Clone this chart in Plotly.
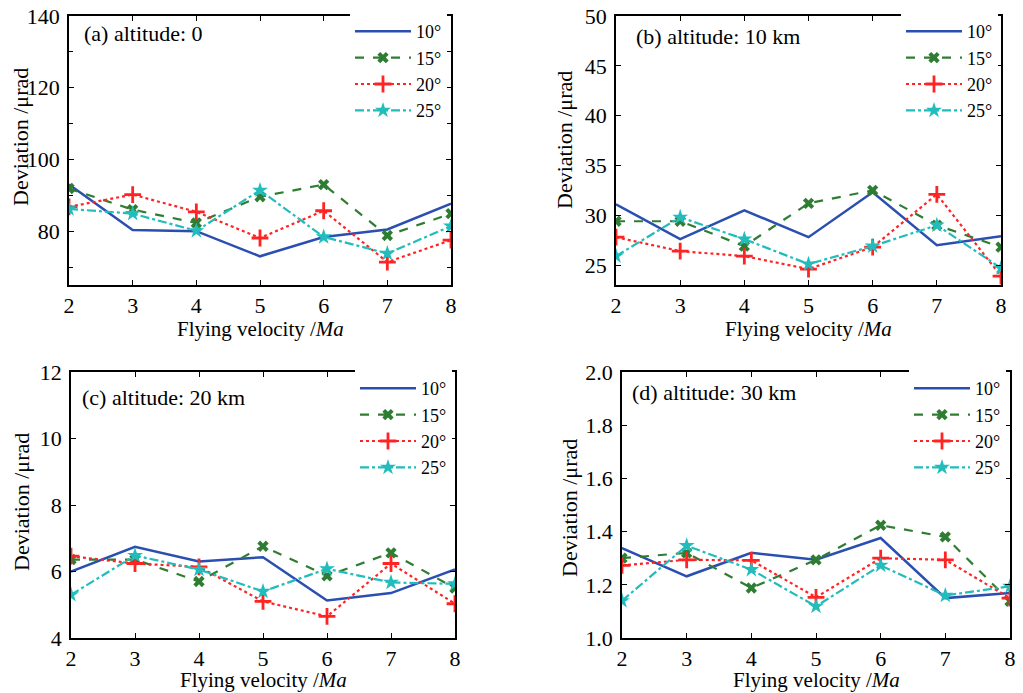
import plotly.graph_objects as go

velocity = [2, 3, 4, 5, 6, 7, 8]
angles = ["10°", "15°", "20°", "25°"]

a_10 = [93.0, 80.3, 80.0, 73.0, 78.4, 80.5, 87.7]
a_15 = [91.9, 86.0, 82.3, 89.6, 93.0, 78.8, 84.9]
a_20 = [86.8, 90.2, 85.4, 78.1, 85.7, 71.4, 77.5]
a_25 = [86.2, 84.9, 80.1, 91.4, 78.4, 73.8, 81.4]

b_10 = [31.1, 27.6, 30.5, 27.8, 32.3, 27.0, 27.9]
b_15 = [29.4, 29.4, 26.9, 31.2, 32.5, 29.0, 26.8]
b_20 = [27.8, 26.4, 25.9, 24.6, 26.8, 32.1, 23.9]
b_25 = [25.9, 29.8, 27.6, 25.1, 26.9, 29.0, 24.7]

c_10 = [6.00, 6.74, 6.30, 6.43, 5.13, 5.35, 6.06]
c_15 = [6.36, 6.36, 5.70, 6.76, 5.87, 6.56, 5.50]
c_20 = [6.46, 6.24, 6.14, 5.10, 4.65, 6.24, 5.03]
c_25 = [5.30, 6.48, 6.06, 5.40, 6.08, 5.67, 5.63]

d_10 = [1.338, 1.232, 1.320, 1.294, 1.376, 1.150, 1.169]
d_15 = [1.300, 1.320, 1.188, 1.294, 1.424, 1.380, 1.138]
d_20 = [1.273, 1.294, 1.292, 1.153, 1.300, 1.294, 1.150]
d_25 = [1.140, 1.347, 1.257, 1.119, 1.273, 1.160, 1.194]

panel_titles = ["(a) altitude: 0", "(b) altitude: 10 km", "(c) altitude: 20 km", "(d) altitude: 30 km"]
x_title = "Flying velocity /<i>Ma</i>"
y_title = "Deviation /μrad"
panels = [[a_10, a_15, a_20, a_25], [b_10, b_15, b_20, b_25],
          [c_10, c_15, c_20, c_25], [d_10, d_15, d_20, d_25]]

W, H = 1023, 693
FONT = "Liberation Serif, Times New Roman, serif"
FS = 22

styles = [
    dict(color="#2a4fb0", dash="solid", width=2.5, symbol=None),
    dict(color="#2e7d32", dash="dash", width=2.2, symbol="x"),
    dict(color="#ff2424", dash="dot", width=2.2, symbol="cross-thin"),
    dict(color="#22bcbc", dash="dashdot", width=2.2, symbol="star"),
]

# pixel boxes (left, right, top, bottom)
boxes = [(69, 451, 16, 285), (616, 1001, 16, 285), (71, 455, 372, 638), (622, 1010, 372, 638)]
yranges = [[65, 140], [23, 50], [4, 12], [1.0, 2.0]]
ydticks = [20, 5, 2, 0.2]
yformats = ["", "", "", ".1f"]
legend_pos = [(350, 13), (901, 13), (355, 370), (909, 370)]
title_pos = [(82, 33), (634, 36), (80, 397), (630, 392)]
ytitle_pos = [(20, 137), (565, 140), (21, 502), (569, 508)]
xtitle_pos = [(260, 329), (808, 329), (263, 680), (816, 680)]

fig = go.Figure()
layout = dict(width=W, height=H, margin=dict(l=0, r=0, t=0, b=0, autoexpand=False),
              paper_bgcolor="white", plot_bgcolor="white",
              font=dict(family=FONT, size=FS, color="black"))
annotations = []
for p in range(4):
    sfx = "" if p == 0 else str(p + 1)
    leg = "legend" + sfx
    for k in range(4):
        st = styles[k]
        mode = "lines" if st["symbol"] is None else "lines+markers"
        marker = None
        if st["symbol"] == "x":
            marker = dict(symbol="x", size=10, color=st["color"])
        elif st["symbol"] == "cross-thin":
            marker = dict(symbol="cross-thin", size=12, color=st["color"],
                          line=dict(width=2.8, color=st["color"]))
        elif st["symbol"] == "star":
            marker = dict(symbol="star", size=12, color=st["color"])
        fig.add_trace(go.Scatter(
            x=velocity, y=panels[p][k], name=angles[k], mode=mode,
            line=dict(color=st["color"], dash=st["dash"], width=st["width"]),
            marker=marker, xaxis="x" + sfx, yaxis="y" + sfx, legend=leg))
    l, r, t, b = boxes[p]
    axis_common = dict(showline=True, linecolor="black", linewidth=1.5, mirror="ticks",
                       ticks="inside", ticklen=5, tickwidth=1.2, tickcolor="black",
                       showgrid=False, zeroline=False, automargin=False,
                       tickfont=dict(family=FONT, size=FS, color="black"))
    layout["xaxis" + sfx] = dict(domain=[l / W, r / W], anchor="y" + sfx,
                                 range=[2, 8], dtick=1, tick0=0,
                                 ticklabelstandoff=0, **axis_common)
    ydict = dict(domain=[1 - b / H, 1 - t / H], anchor="x" + sfx,
                 range=yranges[p], dtick=ydticks[p], tick0=0, tickformat=yformats[p],
                 ticklabelstandoff=3, **axis_common)
    if p == 0:
        ydict["minor"] = dict(dtick=10, ticks="inside", ticklen=4, tickcolor="black")
    layout["yaxis" + sfx] = ydict
    lx, ly = legend_pos[p]
    layout[leg] = dict(x=lx / W, y=1 - ly / H, xanchor="left", yanchor="top",
                       bgcolor="white", borderwidth=0, itemwidth=56,
                       font=dict(family=FONT, size=18), tracegroupgap=0)
    tx, ty = title_pos[p]
    annotations.append(dict(text=panel_titles[p], x=tx / W, y=1 - ty / H,
                            xref="paper", yref="paper", xanchor="left", yanchor="middle",
                            showarrow=False, font=dict(family=FONT, size=FS)))
    yx, yy = ytitle_pos[p]
    annotations.append(dict(text=y_title, x=yx / W, y=1 - yy / H, textangle=-90,
                            xref="paper", yref="paper", xanchor="center", yanchor="middle",
                            showarrow=False, font=dict(family=FONT, size=FS)))
    xx, xy = xtitle_pos[p]
    annotations.append(dict(text=x_title, x=xx / W, y=1 - xy / H,
                            xref="paper", yref="paper", xanchor="center", yanchor="middle",
                            showarrow=False, font=dict(family=FONT, size=21)))
layout["annotations"] = annotations
fig.update_layout(**layout)
fig.write_html("out.html", config={"displayModeBar": False},
               post_script="document.body.style.margin='0px';document.body.style.overflow='hidden';")
